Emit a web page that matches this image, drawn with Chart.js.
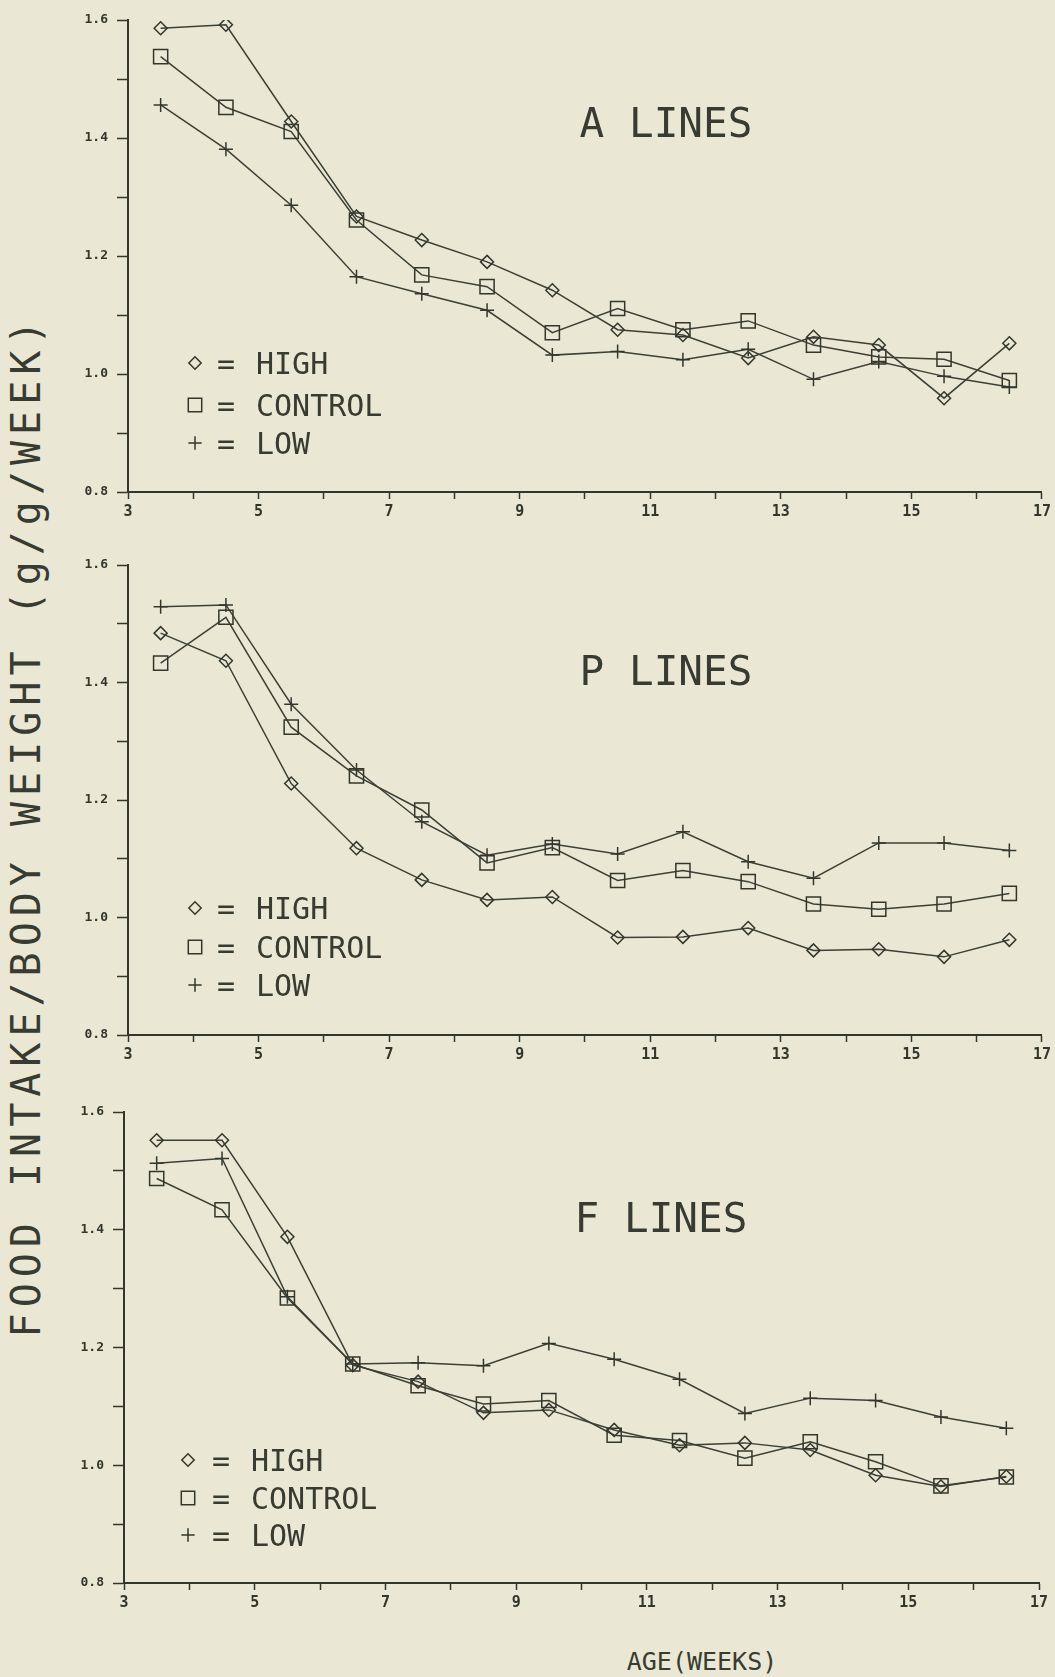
<!DOCTYPE html>
<html>
<head>
<meta charset="utf-8">
<title>Food intake / body weight by age</title>
<script src="https://cdn.jsdelivr.net/npm/chart.js@4.4.1/dist/chart.umd.min.js"></script>
<style>
  html, body { margin: 0; padding: 0; background: #eae8d4; }
  #page { position: relative; width: 1055px; height: 1677px; overflow: hidden; background: #eae8d4; }
  #page canvas { position: absolute; left: 0; }
  .axis-title { position: absolute; color: #383b31; font-family: "DejaVu Sans Mono", monospace; white-space: nowrap; text-align: center; }
  #ytitle { width: 1100px; height: 44px; line-height: 44px; left: -524px; top: 804px; font-size: 40px; letter-spacing: 6px; transform: rotate(-90deg); }
  #xtitle { width: 300px; height: 30px; line-height: 30px; left: 552px; top: 1647px; font-size: 25px; }
</style>
</head>
<body>
<div id="page">
  <div id="ytitle" class="axis-title">FOOD INTAKE/BODY WEIGHT (g/g/WEEK)</div>
  <canvas id="panelA" width="1055" height="532" style="top:0px"></canvas>
  <canvas id="panelP" width="1055" height="530" style="top:545px"></canvas>
  <canvas id="panelF" width="1055" height="531" style="top:1092px"></canvas>
  <div id="xtitle" class="axis-title">AGE(WEEKS)</div>
</div>
<script>
// Age (weeks) at which each weekly ratio was recorded
const ageWeeks = [3.5, 4.5, 5.5, 6.5, 7.5, 8.5, 9.5, 10.5, 11.5, 12.5, 13.5, 14.5, 15.5, 16.5];

// Axis ranges and tick spacing
const xRange = [3, 17];
const yRange = [0.8, 1.6];
const xStep = 1;
const yStep = 0.1;

// Selection groups
const groupNames = ['HIGH', 'CONTROL', 'LOW'];

// A lines
const aHigh    = [1.586, 1.592, 1.428, 1.267, 1.227, 1.190, 1.142, 1.075, 1.066, 1.027, 1.063, 1.049, 0.959, 1.052];
const aControl = [1.538, 1.452, 1.411, 1.261, 1.168, 1.148, 1.070, 1.111, 1.075, 1.090, 1.049, 1.029, 1.025, 0.989];
const aLow     = [1.456, 1.381, 1.286, 1.165, 1.136, 1.108, 1.032, 1.038, 1.024, 1.042, 0.991, 1.021, 0.996, 0.978];

// P lines
const pHigh    = [1.484, 1.437, 1.228, 1.118, 1.064, 1.030, 1.035, 0.966, 0.967, 0.982, 0.944, 0.946, 0.933, 0.962];
const pControl = [1.433, 1.511, 1.324, 1.241, 1.183, 1.093, 1.119, 1.063, 1.080, 1.061, 1.023, 1.014, 1.023, 1.041];
const pLow     = [1.529, 1.532, 1.363, 1.251, 1.163, 1.106, 1.125, 1.108, 1.146, 1.095, 1.067, 1.127, 1.127, 1.114];

// F lines
const fHigh    = [1.552, 1.552, 1.388, 1.170, 1.142, 1.089, 1.094, 1.060, 1.034, 1.038, 1.026, 0.983, 0.964, 0.981];
const fControl = [1.487, 1.434, 1.284, 1.172, 1.135, 1.104, 1.110, 1.051, 1.042, 1.012, 1.040, 1.006, 0.965, 0.980];
const fLow     = [1.513, 1.521, 1.286, 1.172, 1.174, 1.169, 1.207, 1.180, 1.146, 1.088, 1.114, 1.110, 1.082, 1.063];

// ---- styling ----
const INK = '#33362c';
const LINE = '#3c3f35';
const MARKERS = [
  { pointStyle: 'rectRot', radius: 6.5 },  // diamond
  { pointStyle: 'rect',    radius: 10 },   // square
  { pointStyle: 'cross',   radius: 7 }     // plus
];

function makeDatasets(series) {
  return series.map((values, i) => ({
    label: groupNames[i],
    data: values.map((v, k) => ({ x: ageWeeks[k], y: v })),
    borderColor: LINE,
    borderWidth: 1.5,
    tension: 0,
    fill: false,
    pointStyle: MARKERS[i].pointStyle,
    pointRadius: MARKERS[i].radius,
    pointBorderColor: INK,
    pointBorderWidth: 1.5,
    pointBackgroundColor: 'rgba(0,0,0,0)',
    pointHoverRadius: MARKERS[i].radius
  }));
}

// Panel name and the "symbol = group" key, drawn inside the plot area
const panelNotes = {
  id: 'panelNotes',
  afterDraw(chart, args, opts) {
    const ctx = chart.ctx;
    ctx.save();
    ctx.fillStyle = '#383b31';
    ctx.textBaseline = 'alphabetic';
    ctx.font = '41px "DejaVu Sans Mono", monospace';
    ctx.textAlign = 'center';
    ctx.fillText(opts.title, opts.titleX, opts.titleY + 15);

    ctx.font = '30px "DejaVu Sans Mono", monospace';
    chart.data.datasets.forEach((ds, i) => {
      const y = opts.keyRows[i];
      ctx.save();
      ctx.strokeStyle = INK;
      ctx.fillStyle = 'rgba(0,0,0,0)';
      ctx.lineWidth = 1.5;
      Chart.helpers.drawPoint(ctx, { pointStyle: ds.pointStyle, radius: MARKERS[i].radius * 0.95, rotation: 0, borderWidth: 1.5 }, opts.symbolX, y);
      ctx.restore();
      ctx.textAlign = 'center';
      ctx.fillText('=', opts.eqX, y + 11);
      ctx.textAlign = 'left';
      ctx.fillText(ds.label, opts.textX, y + 11);
    });
    ctx.restore();
  }
};

function makeChart(canvasId, series, frame, notes) {
  return new Chart(document.getElementById(canvasId), {
    type: 'line',
    data: { datasets: makeDatasets(series) },
    plugins: [panelNotes],
    options: {
      responsive: false,
      animation: false,
      devicePixelRatio: 1,
      layout: { padding: { top: 20, right: frame.rightPad, bottom: 0, left: 0 } },
      plugins: {
        legend: { display: false },
        tooltip: { enabled: false },
        panelNotes: notes
      },
      scales: {
        x: {
          type: 'linear',
          min: xRange[0],
          max: xRange[1],
          afterFit: s => { s.height = 40; },
          grid: { drawOnChartArea: false, drawTicks: true, tickLength: 7, tickColor: INK, tickWidth: 1.5 },
          border: { display: true, color: INK, width: 2 },
          ticks: {
            stepSize: xStep,
            autoSkip: false,
            maxRotation: 0,
            padding: 4,
            color: INK,
            font: { family: '"DejaVu Sans Mono", monospace', size: 15, weight: 'bold' },
            callback: v => (Math.round(v) % 2 === 1 ? String(Math.round(v)) : '')
          }
        },
        y: {
          type: 'linear',
          min: yRange[0],
          max: yRange[1],
          afterFit: s => { s.width = frame.left; },
          grid: { drawOnChartArea: false, drawTicks: true, tickLength: 11, tickColor: INK, tickWidth: 1.5 },
          border: { display: true, color: INK, width: 2 },
          ticks: {
            stepSize: yStep,
            autoSkip: false,
            padding: 9,
            color: INK,
            font: { family: '"DejaVu Sans Mono", monospace', size: 13, weight: 'bold' },
            callback: v => (Math.round(v * 10) % 2 === 0 ? v.toFixed(1) : '')
          }
        }
      }
    }
  });
}

makeChart('panelA', [aHigh, aControl, aLow], { left: 128, rightPad: 11 },
  { title: 'A LINES', titleX: 666, titleY: 122, symbolX: 195, eqX: 226, textX: 256, keyRows: [363, 405, 443] });

makeChart('panelP', [pHigh, pControl, pLow], { left: 128, rightPad: 11 },
  { title: 'P LINES', titleX: 666, titleY: 125, symbolX: 195, eqX: 226, textX: 256, keyRows: [363, 402, 440] });

makeChart('panelF', [fHigh, fControl, fLow], { left: 124, rightPad: 16 },
  { title: 'F LINES', titleX: 661, titleY: 125, symbolX: 188, eqX: 221, textX: 251, keyRows: [368, 406, 443] });
</script>
</body>
</html>
